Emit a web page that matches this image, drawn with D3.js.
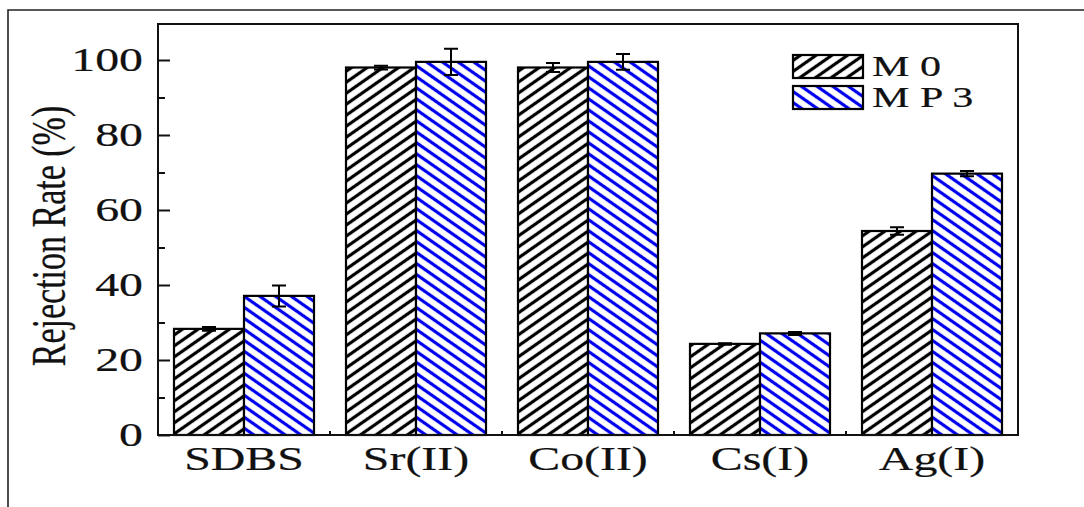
<!DOCTYPE html>
<html>
<head>
<meta charset="utf-8">
<script src="https://cdn.jsdelivr.net/npm/d3@7"></script>
<style>
  html, body { margin: 0; padding: 0; background: #fff; }
  svg { display: block; }
  text { font-family: "Liberation Serif", "DejaVu Serif", serif; fill: #111; stroke: #111; stroke-width: 0.2px; }
</style>
</head>
<body>
<svg id="chart" width="1084" height="507"></svg>
<script>
// Rejection rate of SDBS and metal ions for the two membranes
const categories = ["SDBS", "Sr(II)", "Co(II)", "Cs(I)", "Ag(I)"];
const seriesNames = ["M 0", "M P 3"];
const m0Values = [28.3, 98.0, 98.0, 24.3, 54.4];
const m0Errors = [0.5, 0.5, 1.2, 0.2, 1.0];
const mp3Values = [37.1, 99.5, 99.5, 27.1, 69.7];
const mp3Errors = [2.8, 3.5, 2.1, 0.4, 0.7];
const yTicks = [0, 20, 40, 60, 80, 100];
const yMinorTicks = [10, 30, 50, 70, 90];

const svg = d3.select("#chart");
const W = 1084, H = 507;
const sx = 1.45; // horizontal stretch of the typeset text

const plot = { left: 158, top: 24, right: 1018, bottom: 435 };

const x0 = d3.scaleBand().domain(categories)
  .range([plot.left, plot.right]).paddingInner(32 / 172).paddingOuter(16 / 172);
const x1 = d3.scaleBand().domain(seriesNames).range([0, x0.bandwidth()]);
const y = d3.scaleLinear().domain([0, 109.6]).range([plot.bottom, plot.top]);

// hatch patterns
const defs = svg.append("defs");
function hatch(id, color, angle) {
  const p = defs.append("pattern")
    .attr("id", id)
    .attr("patternUnits", "userSpaceOnUse")
    .attr("width", 20).attr("height", 9)
    .attr("patternTransform", `rotate(${angle})`);
  p.append("rect").attr("width", 20).attr("height", 9).attr("fill", "#fff");
  p.append("line").attr("x1", 0).attr("x2", 20).attr("y1", 4.5).attr("y2", 4.5)
    .attr("stroke", color).attr("stroke-width", 3.2);
}
hatch("hatchM0", "#000", -35);
hatch("hatchMP3", "#0000ee", 35);
const fills = { "M 0": "url(#hatchM0)", "M P 3": "url(#hatchMP3)" };

// outer figure border (top and left)
svg.append("path")
  .attr("d", `M8,${H} L8,10 L${W},10`)
  .attr("fill", "none").attr("stroke", "#222").attr("stroke-width", 1.6);

// bars
const rows = categories.map((c, i) => ({
  cat: c,
  items: [
    { s: seriesNames[0], v: m0Values[i], e: m0Errors[i] },
    { s: seriesNames[1], v: mp3Values[i], e: mp3Errors[i] }
  ]
}));

const groups = svg.append("g").selectAll("g").data(rows).join("g")
  .attr("transform", d => `translate(${x0(d.cat)},0)`);

groups.selectAll("rect").data(d => d.items).join("rect")
  .attr("x", d => x1(d.s))
  .attr("y", d => y(d.v))
  .attr("width", x1.bandwidth())
  .attr("height", d => y(0) - y(d.v))
  .attr("fill", d => fills[d.s])
  .attr("stroke", "#000").attr("stroke-width", 2.2);

// error bars
const cap = 7;
groups.selectAll("path.err").data(d => d.items).join("path")
  .attr("class", "err")
  .attr("d", d => {
    const cx = x1(d.s) + x1.bandwidth() / 2;
    const yt = y(d.v + d.e), yb = y(d.v - d.e);
    return `M${cx - cap},${yt}H${cx + cap}M${cx},${yt}V${yb}M${cx - cap},${yb}H${cx + cap}`;
  })
  .attr("fill", "none").attr("stroke", "#000").attr("stroke-width", 2);

// plot frame
svg.append("rect")
  .attr("x", plot.left).attr("y", plot.top)
  .attr("width", plot.right - plot.left).attr("height", plot.bottom - plot.top)
  .attr("fill", "none").attr("stroke", "#111").attr("stroke-width", 2);

// left axis: inward ticks, labels drawn separately
const yAxis = d3.axisRight(y).tickValues(yTicks).tickSize(12).tickFormat("");
svg.append("g").attr("transform", `translate(${plot.left},0)`).call(yAxis)
  .call(g => g.select(".domain").remove())
  .call(g => g.selectAll("line").attr("stroke", "#111").attr("stroke-width", 2));
const yMinor = d3.axisRight(y).tickValues(yMinorTicks).tickSize(7).tickFormat("");
svg.append("g").attr("transform", `translate(${plot.left},0)`).call(yMinor)
  .call(g => g.select(".domain").remove())
  .call(g => g.selectAll("line").attr("stroke", "#111").attr("stroke-width", 2));

svg.append("g").selectAll("g").data(yTicks).join("g")
  .attr("transform", d => `translate(143,${y(d) + 11}) scale(${sx},1)`)
  .append("text")
  .attr("text-anchor", "end")
  .attr("font-size", 33)
  .text(d => d);

// bottom axis: small ticks between category groups
const bounds = categories.slice(1).map(c => x0(c) - x0.step() * x0.paddingInner() / 2);
svg.append("g").selectAll("line").data(bounds).join("line")
  .attr("x1", d => d).attr("x2", d => d)
  .attr("y1", plot.bottom).attr("y2", plot.bottom - 4)
  .attr("stroke", "#111").attr("stroke-width", 2);

svg.append("g").selectAll("g").data(categories).join("g")
  .attr("transform", d => `translate(${x0(d) + x0.bandwidth() / 2},470) scale(${sx},1)`)
  .append("text")
  .attr("text-anchor", "middle")
  .attr("font-size", 33)
  .text(d => d);

// y axis title
svg.append("g")
  .attr("transform", `translate(65,236) scale(${sx},1) rotate(-90)`)
  .append("text")
  .attr("text-anchor", "middle")
  .attr("font-size", 34)
  .text("Rejection Rate (%)");

// legend
const legend = svg.append("g").selectAll("g").data(seriesNames).join("g")
  .attr("transform", (d, i) => `translate(793,${55 + i * 31})`);
legend.append("rect")
  .attr("width", 70).attr("height", 23)
  .attr("fill", d => fills[d])
  .attr("stroke", "#000").attr("stroke-width", 2.2);
legend.append("g")
  .attr("transform", `translate(79,21) scale(${sx},1)`)
  .append("text")
  .attr("font-size", 29)
  .text(d => d);
</script>
</body>
</html>
